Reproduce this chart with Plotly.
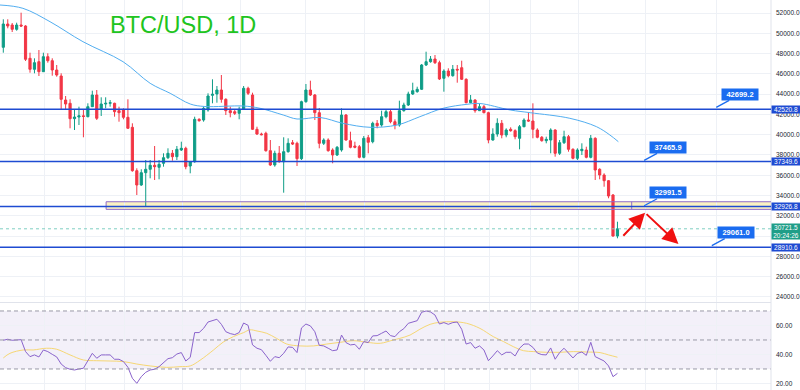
import plotly.graph_objects as go

# ---------------- data ----------------
opens = [48618, 50916, 50817, 50393, 50817, 50718, 47534, 46449, 47198, 46212,
         47691, 47297, 46380, 45788, 43422, 43097, 41578, 41746, 41860, 41775,
         42761, 43915, 42505, 43028, 43097, 43097, 42367, 42436, 41716, 40730,
         36451, 35041, 36254, 36590, 36983, 36786, 37181, 37733, 38167, 37831,
         38492, 38660, 36914, 37338, 41519, 41450, 42436, 43885, 44014, 44408,
         43491, 42367, 42268, 42110, 42505, 44575, 43915, 40533, 40070, 40139,
         38423, 37013, 38167, 37338, 38324, 39212, 39153, 37634, 43254, 44408,
         43915, 42170, 39153, 39478, 38492, 37999, 38492, 41943, 39409, 38886,
         38817, 37772, 39705, 39310, 41124, 40957, 41775, 42268, 41282, 40957,
         42367, 42929, 44014, 44240, 44477, 46873, 47198, 47465, 47100, 45562,
         46281, 45818, 46449, 46607, 45463, 43156, 43422, 42367, 42761, 42170,
         39478, 40070, 41124, 39971, 40533, 40395, 39646, 40790, 41450, 41351,
         40464, 39745, 39409, 39478, 40464, 38167, 39212, 39803, 38561, 37673,
         38423, 38492, 37772, 39646, 36590, 36027, 35465, 34055, 30012]
closes = [50916, 50718, 50393, 50817, 50718, 47435, 46449, 47100, 46212, 47691,
          47297, 46380, 45887, 43491, 43028, 41578, 41746, 41860, 41800, 42761,
          43915, 41618, 43028, 43097, 43156, 42268, 42170, 41716, 40632, 36451,
          35041, 36254, 36590, 36983, 36846, 37082, 37733, 38167, 37831, 38561,
          38660, 36846, 37338, 41519, 41380, 42603, 43816, 43984, 44408, 43491,
          42367, 42170, 42110, 42505, 44575, 44083, 40533, 40070, 40000, 38423,
          37013, 38167, 37338, 38324, 39153, 39084, 37634, 43254, 44408, 43915,
          42170, 39153, 39478, 38423, 37999, 38758, 41943, 39478, 38758, 38758,
          37772, 39646, 39251, 41124, 40888, 41775, 42268, 41282, 40957, 42367,
          42929, 44014, 44339, 44477, 46873, 47198, 47465, 47100, 45493, 46281,
          45818, 46449, 46380, 45463, 43156, 43422, 42367, 42761, 42170, 39478,
          40070, 41124, 39971, 40464, 40395, 39803, 40790, 41450, 41351, 40533,
          39745, 39409, 39547, 40464, 38167, 39212, 39803, 38561, 37673, 38492,
          38561, 37772, 39646, 36520, 36027, 35465, 33956, 30012, 30721.5]
highs = [51379, 51379, 51014, 51044, 52030, 50800, 48086, 47534, 48352, 48086,
         48027, 47534, 46873, 46055, 43816, 43491, 42436, 42761, 42436, 43097,
         44339, 44408, 43688, 43688, 43422, 43156, 42761, 42603, 43491, 41124,
         36688, 36590, 37506, 37506, 38886, 37506, 38167, 38660, 38492, 38886,
         39310, 38817, 37408, 41775, 41618, 42761, 44082, 45463, 44802, 45887,
         43590, 42761, 42505, 42761, 44802, 44733, 44142, 40790, 40198, 40297,
         39478, 38423, 38886, 39745, 39646, 39478, 39310, 43353, 45000, 45325,
         44014, 42633, 39646, 39646, 38660, 38886, 42603, 42041, 40297, 39310,
         38985, 39872, 39971, 41282, 41450, 42367, 42436, 42436, 41519, 43353,
         43156, 44240, 45128, 44733, 46972, 48184, 47760, 47859, 47297, 46449,
         46547, 46873, 46873, 47297, 45562, 43915, 43491, 43028, 42929, 42268,
         40632, 41618, 41450, 40632, 40730, 40533, 40957, 41618, 42170, 43097,
         40632, 39872, 39803, 40632, 40533, 39478, 40395, 39971, 38660, 38660,
         39153, 38817, 39971, 39745, 36688, 36194, 35534, 34154, 31422]
lows = [48086, 50492, 50127, 50255, 50620, 47267, 46114, 46055, 45788, 46183,
        47100, 45818, 45719, 42505, 42505, 40632, 40464, 40957, 39745, 41716,
        42732, 41450, 41844, 42603, 42761, 41775, 41282, 41519, 40600, 36352,
        34055, 34950, 32901, 35701, 35534, 35603, 36846, 37600, 37437, 37506,
        38393, 36590, 36194, 37239, 41282, 41282, 42268, 43097, 43156, 43156,
        41943, 41716, 41943, 41519, 42436, 43915, 40464, 39971, 39941, 38325,
        36914, 36846, 37239, 34282, 38226, 38985, 36914, 37506, 43156, 43816,
        41450, 38660, 38985, 38325, 37181, 37900, 38325, 39409, 38660, 38660,
        37673, 37673, 38167, 39153, 40632, 40790, 41618, 41124, 40533, 40790,
        42268, 42830, 43915, 44142, 44408, 46774, 47100, 46972, 45394, 44240,
        45660, 45719, 45128, 45394, 43097, 43097, 42170, 42337, 42110, 39153,
        39409, 39803, 39646, 39745, 40297, 39547, 38561, 40730, 41282, 39646,
        39646, 39310, 39153, 38167, 37831, 37999, 39084, 38324, 37575, 37506,
        37999, 37673, 37673, 35534, 35603, 34873, 33729, 29943, 29786]
bar_idx = list(range(len(closes)))

# moving average on price (read at sample points)
ma_idx = [-0.74, 4.4, 10.5, 17.9, 26.9, 33.0, 37.5, 42.0, 45.3, 53.9, 57.7, 62.9,
          66.0, 71.2, 76.3, 82.4, 88.5, 93.6, 98.8, 104.2, 107.1, 113.9, 118.4,
          127.3, 133.3, 136.3, 138.2]
ma_val = [52789, 52464, 51142, 49170, 47198, 45069, 44083, 43028, 42781, 42830,
          42603, 41943, 41549, 41696, 41124, 40730, 40957, 41775, 42603, 42998,
          43077, 42436, 42170, 41618, 40789, 39971, 39310]

# RSI per bar
rsi = [49.8, 50.5, 49.8, 50.0, 50.2, 42.0, 38.5, 39.7, 38.3, 43.1,
       42.0, 40.1, 38.3, 33.4, 30.9, 29.8, 29.3, 30.0, 30.5, 35.7,
       40.8, 37.4, 39.7, 39.7, 39.7, 36.7, 36.7, 35.1, 31.2, 23.6,
       20.1, 24.7, 27.7, 29.3, 29.8, 31.6, 34.4, 37.1, 37.8, 40.3,
       41.3, 35.5, 38.0, 55.1, 55.1, 58.0, 62.4, 63.3, 64.3, 60.8,
       55.7, 54.4, 53.7, 55.1, 61.7, 60.1, 46.6, 44.3, 43.3, 39.4,
       35.3, 38.5, 37.8, 40.8, 45.2, 44.9, 41.3, 58.3, 61.0, 59.7,
       55.7, 46.3, 45.9, 44.3, 42.6, 43.1, 53.4, 48.2, 46.6, 47.0,
       43.6, 48.9, 48.2, 52.8, 53.0, 54.6, 56.2, 53.0, 52.3, 55.7,
       57.8, 61.5, 62.2, 63.3, 69.1, 70.0, 69.3, 67.2, 61.0, 62.0,
       60.8, 62.0, 62.4, 57.4, 47.2, 48.2, 44.3, 45.9, 43.1, 35.7,
       39.0, 42.6, 39.7, 41.5, 41.5, 39.0, 44.3, 47.2, 47.2, 44.9,
       41.0, 39.9, 39.7, 44.5, 36.7, 41.3, 44.3, 41.3, 37.6, 40.8,
       41.7, 39.4, 48.4, 38.5, 36.9, 35.5, 32.1, 24.7, 27.0]

# RSI moving average (read at sample points)
rsima_idx = [0, 1.5, 4.5, 6.7, 9.7, 12, 15, 18, 21, 24, 27, 30, 33, 36.7, 39.7, 42,
             44.2, 47.2, 49.4, 51.7, 54, 55.4, 57, 59.2, 61.4, 63.7, 66.7, 69.7,
             72.7, 75.7, 78.7, 81.7, 84.7, 87.6, 89.1, 91.4, 93.6, 95.9, 98.1,
             101.1, 104.1, 107.1, 110.1, 112.4, 114.6, 116.9, 119.1, 122.1,
             125.1, 128.1, 131.1, 134.1, 136, 138]
rsima_val = [37.6, 40.8, 43.1, 43.1, 44.3, 43.6, 39.7, 36.2, 35.7, 35.5, 35.1, 33.4,
             32.1, 31.1, 31.6, 32.1, 36.0, 43.0, 48.5, 52.3, 55.1, 57.0, 56.2, 54.6,
             51.1, 47.2, 45.9, 45.9, 47.2, 48.4, 49.5, 48.4, 47.7, 50.0, 51.1, 53.4,
             57.4, 60.8, 62.2, 62.6, 61.5, 58.0, 52.3, 48.9, 45.4, 42.6, 42.0, 41.5,
             41.5, 42.0, 41.7, 41.3, 39.7, 38.1]

# drawn levels
levels = [42520.8, 37349.6, 32926.8, 28910.6]
last_price = 30721.5
last_time = "20:24:26"
callout_vals = [42699.2, 37465.9, 32991.5, 29061.0]
callout_idx = [160.2, 144.0, 144.0, 159.2]
zone_top, zone_bottom = 33390, 32640
zone_start, zone_mark = 23.1, 141.2
arrow_idx = [139.0, 144.2, 151.7]
arrow_price = [29884, 32310, 29224]
grid_idx = [9.2, 18.4, 27.3, 40.3, 53.2, 67.8, 81.1, 99.1, 109.2, 118.4, 129.2, 144.2, 160.3]
price_ticks = list(range(24000, 54000, 2000))
rsi_ticks = [20, 40, 60]
rsi_bands = [70, 50, 30]

X_RANGE = [-0.742, 172.5]
Y_RANGE = [23505, 53282]
R_RANGE = [15.5, 75.5]

GREEN = "#0f9d87"
RED = "#f23645"
BLUE_LINE = "#1e4bd2"
BLUE_BOX = "#1a6cf0"
GRID = "#eef1f6"
AX_FONT = dict(family="Liberation Sans, Arial, sans-serif", size=6.5, color="#222631")

fig = go.Figure()

fig.add_trace(go.Candlestick(
    x=bar_idx, open=opens, high=highs, low=lows, close=closes,
    increasing=dict(line=dict(color=GREEN, width=1), fillcolor=GREEN),
    decreasing=dict(line=dict(color=RED, width=1), fillcolor=RED),
    whiskerwidth=0, xaxis="x", yaxis="y", showlegend=False, hoverinfo="skip"))

fig.add_trace(go.Scatter(x=ma_idx, y=ma_val, mode="lines",
                         line=dict(color="#52aef0", width=1, shape="spline", smoothing=1.0),
                         xaxis="x", yaxis="y", showlegend=False, hoverinfo="skip"))

fig.add_trace(go.Scatter(x=rsima_idx, y=rsima_val, mode="lines",
                         line=dict(color="#f6d774", width=1, shape="spline", smoothing=1.0),
                         xaxis="x2", yaxis="y2", showlegend=False, hoverinfo="skip"))
fig.add_trace(go.Scatter(x=bar_idx, y=rsi, mode="lines",
                         line=dict(color="#8a63cc", width=1),
                         xaxis="x2", yaxis="y2", showlegend=False, hoverinfo="skip"))

shapes = []
# RSI band and dashed levels
shapes.append(dict(type="rect", xref="paper", yref="y2", x0=0, x1=1,
                   y0=rsi_bands[2], y1=rsi_bands[0], fillcolor="rgba(126,87,194,0.09)",
                   line=dict(width=0), layer="below"))
for b in rsi_bands:
    shapes.append(dict(type="line", xref="paper", yref="y2", x0=0, x1=1, y0=b, y1=b,
                       line=dict(color="#9a9aa6", width=1, dash="4px,3px")))
# pane separator and right border
shapes.append(dict(type="line", xref="paper", yref="paper", x0=0, x1=1,
                   y0=1 - 302.5 / 390, y1=1 - 302.5 / 390, line=dict(color="#e0e3eb", width=1)))
shapes.append(dict(type="line", xref="paper", yref="paper", x0=1, x1=1, y0=0, y1=1,
                   line=dict(color="#e0e3eb", width=1)))
# zone rectangle
shapes.append(dict(type="rect", xref="x", yref="y", x0=zone_start, x1=X_RANGE[1],
                   y0=zone_bottom, y1=zone_top, fillcolor="#fbf2c2",
                   line=dict(width=0), layer="below"))
for yv in (zone_top, zone_bottom):
    shapes.append(dict(type="line", xref="x", yref="y", x0=zone_start, x1=X_RANGE[1],
                       y0=yv, y1=yv, line=dict(color="#8e6bc9", width=1)))
for xv in (zone_start, zone_mark):
    shapes.append(dict(type="line", xref="x", yref="y", x0=xv, x1=xv,
                       y0=zone_bottom, y1=zone_top, line=dict(color="#8e6bc9", width=1)))
# horizontal levels
for lv in levels:
    shapes.append(dict(type="line", xref="paper", yref="y", x0=0, x1=1, y0=lv, y1=lv,
                       line=dict(color=BLUE_LINE, width=1.5)))
# last price dotted line
shapes.append(dict(type="line", xref="paper", yref="y", x0=0, x1=1, y0=last_price,
                   y1=last_price, line=dict(color="#7fcfc2", width=1, dash="dot")))

annotations = []
annotations.append(dict(text="BTC/USD, 1D", xref="paper", yref="paper",
                        x=108 / 771, y=1 - 10 / 390, xanchor="left", yanchor="top",
                        showarrow=False,
                        font=dict(family="Liberation Sans, Arial, sans-serif", size=23.5,
                                  color="#20c420")))
for lv in levels:
    annotations.append(dict(text=f"{lv:.1f}", xref="paper", yref="y", x=1, y=lv,
                            xanchor="left", yanchor="middle", showarrow=False,
                            bgcolor=BLUE_LINE, width=28, height=7, borderpad=0,
                            font=dict(family=AX_FONT["family"], size=6.5, color="white")))
annotations.append(dict(text=f"{last_price:.1f}<br>{last_time}", xref="paper", yref="y",
                        x=1, y=last_price, xanchor="left", yanchor="top", yshift=6,
                        showarrow=False, bgcolor="#1f9e88", width=28, height=15, borderpad=0,
                        font=dict(family=AX_FONT["family"], size=6.5, color="white")))
for v, xi in zip(callout_vals, callout_idx):
    annotations.append(dict(text=f"<b>{v:.1f}</b>", xref="x", yref="y", x=xi, y=v,
                            showarrow=True, arrowhead=0, arrowwidth=1.3, arrowcolor=BLUE_BOX,
                            ax=24, ay=-13, bgcolor=BLUE_BOX, width=34, height=9, borderpad=1,
                            font=dict(family="Liberation Sans, Arial, sans-serif", size=7.5,
                                      color="white")))
for i in range(len(arrow_idx) - 1):
    annotations.append(dict(text="", xref="x", yref="y", axref="x", ayref="y",
                            x=arrow_idx[i + 1], y=arrow_price[i + 1],
                            ax=arrow_idx[i], ay=arrow_price[i],
                            showarrow=True, arrowhead=2, arrowsize=1.6, arrowwidth=2,
                            arrowcolor="#f01010", standoff=0, startstandoff=0))

fig.update_layout(
    width=800, height=390, margin=dict(l=0, r=29, t=0, b=0),
    paper_bgcolor="white", plot_bgcolor="white", showlegend=False,
    shapes=shapes, annotations=annotations,
    xaxis=dict(domain=[0, 1], range=X_RANGE, anchor="y", tickvals=grid_idx,
               showticklabels=False, showgrid=True, gridcolor=GRID, zeroline=False,
               rangeslider=dict(visible=False), fixedrange=True),
    xaxis2=dict(domain=[0, 1], range=X_RANGE, anchor="y2", matches="x", tickvals=grid_idx,
                showticklabels=False, showgrid=True, gridcolor=GRID, zeroline=False),
    yaxis=dict(domain=[1 - 302 / 390, 1], range=Y_RANGE, side="right", tickvals=price_ticks,
               tickformat=".1f", tickfont=AX_FONT, showgrid=True, gridcolor=GRID,
               zeroline=False, ticks="", ticklabelstandoff=4),
    yaxis2=dict(domain=[0, 1 - 303 / 390], range=R_RANGE, side="right", tickvals=rsi_ticks,
                tickformat=".2f", tickfont=AX_FONT, showgrid=True, gridcolor=GRID,
                zeroline=False, ticks="", ticklabelstandoff=4),
)

fig.write_html("out.html", config={"displayModeBar": False},
               post_script="document.body.style.margin='0';document.body.style.overflow='hidden';")
